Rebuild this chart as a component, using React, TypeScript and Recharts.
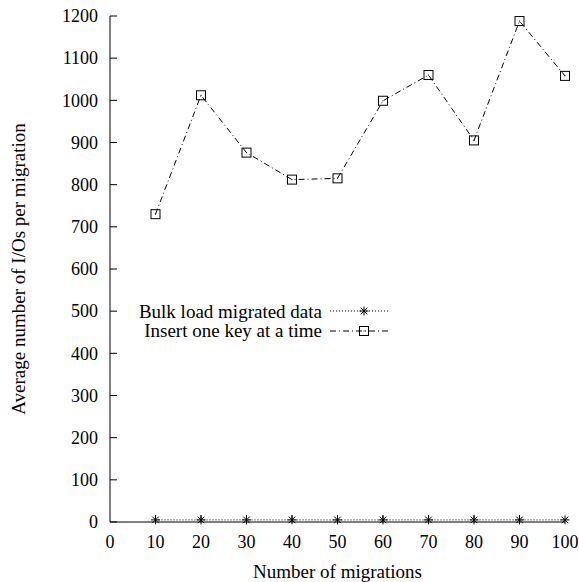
import React from 'react';
import { LineChart, Line, XAxis, YAxis, Legend } from 'recharts';

const migrations = [10, 20, 30, 40, 50, 60, 70, 80, 90, 100];
const bulkLoad = [5, 5, 5, 5, 5, 5, 5, 5, 5, 5];
const insertOne = [730, 1012, 876, 812, 815, 999, 1060, 905, 1188, 1058];
const xTicks = [0, 10, 20, 30, 40, 50, 60, 70, 80, 90, 100];
const yTicks = [0, 100, 200, 300, 400, 500, 600, 700, 800, 900, 1000, 1100, 1200];

const data = migrations.map((m, i) => ({ m, bulk: bulkLoad[i], insert: insertOne[i] }));

const FONT = 'Liberation Serif, Times New Roman, serif';
const TICK_FS = 18;
const LABEL_FS = 19;

const Star = (props: any) => {
  const { cx, cy } = props;
  if (cx == null || cy == null) return null;
  const r = 4.5;
  const d = 3.3;
  return (
    <g stroke="#000" strokeWidth={1}>
      <line x1={cx - r} y1={cy} x2={cx + r} y2={cy} />
      <line x1={cx} y1={cy - r} x2={cx} y2={cy + r} />
      <line x1={cx - d} y1={cy - d} x2={cx + d} y2={cy + d} />
      <line x1={cx - d} y1={cy + d} x2={cx + d} y2={cy - d} />
    </g>
  );
};

const Square = (props: any) => {
  const { cx, cy } = props;
  if (cx == null || cy == null) return null;
  return (
    <g>
      <rect x={cx - 4.5} y={cy - 4.5} width={9} height={9} fill="none" stroke="#000" strokeWidth={1} />
      <rect x={cx - 0.5} y={cy - 0.5} width={1} height={1} fill="#000" />
    </g>
  );
};

// inward tick marks, gnuplot style
const YTick = (props: any) => {
  const { x, y, payload } = props;
  const ax = x + 12;
  return (
    <g>
      <line x1={ax} y1={y} x2={ax + 7} y2={y} stroke="#000" />
      <text x={x} y={y} dy="0.35em" textAnchor="end" style={{ fontFamily: FONT, fontSize: TICK_FS }} fill="#000">
        {payload.value}
      </text>
    </g>
  );
};

const XTick = (props: any) => {
  const { x, y, payload } = props;
  const ay = y - 13;
  return (
    <g>
      {payload.value !== 0 && payload.value !== 100 && <line x1={x} y1={ay} x2={x} y2={ay - 7} stroke="#000" />}
      <text x={x} y={y + 13} textAnchor="middle" style={{ fontFamily: FONT, fontSize: TICK_FS }} fill="#000">
        {payload.value}
      </text>
    </g>
  );
};

const LegendBox = () => (
  <svg width={579} height={582} style={{ position: 'absolute', left: 0, top: 0, pointerEvents: 'none' }}>
    <g style={{ fontFamily: FONT, fontSize: LABEL_FS }} fill="#000">
      <text x={322} y={318} textAnchor="end">Bulk load migrated data</text>
      <text x={322} y={337} textAnchor="end">Insert one key at a time</text>
    </g>
    <line x1={330} y1={311} x2={390} y2={311} stroke="#000" strokeDasharray="1 2" />
    <Star cx={364} cy={311} />
    <line x1={330} y1={331} x2={390} y2={331} stroke="#000" strokeDasharray="6 3 1 3" />
    <Square cx={364} cy={331} />
  </svg>
);

export default function App() {
  return (
    <div style={{ position: 'absolute', left: 0, top: 0, width: 579, height: 582, background: '#fff' }}>
      <LineChart width={579} height={582} data={data} margin={{ top: 16, right: 14, left: 0, bottom: 0 }}>
        <XAxis
          dataKey="m"
          type="number"
          domain={[0, 100]}
          ticks={xTicks}
          height={60}
          stroke="#000"
          tickLine={false}
          tickSize={0}
          tickMargin={13}
          tick={<XTick />}
          label={{ value: 'Number of migrations', position: 'insideBottom', offset: 4, fill: '#000', style: { fontFamily: FONT, fontSize: LABEL_FS } }}
        />
        <YAxis
          type="number"
          domain={[0, 1200]}
          ticks={yTicks}
          width={110}
          stroke="#000"
          tickLine={false}
          tickSize={0}
          tickMargin={12}
          tick={<YTick />}
          label={{ value: 'Average number of I/Os per migration', angle: -90, position: 'insideLeft', offset: 18, fill: '#000', style: { textAnchor: 'middle', fontFamily: FONT, fontSize: LABEL_FS } }}
        />
        <Legend content={() => <LegendBox />} wrapperStyle={{ position: 'absolute', left: 0, top: 0, width: 0, height: 0 }} />
        <Line dataKey="bulk" stroke="#000" strokeWidth={1} strokeDasharray="1 2" dot={<Star />} isAnimationActive={false} />
        <Line dataKey="insert" type="linear" stroke="#000" strokeWidth={1} strokeDasharray="6 3 1 3" dot={<Square />} isAnimationActive={false} />
      </LineChart>
    </div>
  );
}
